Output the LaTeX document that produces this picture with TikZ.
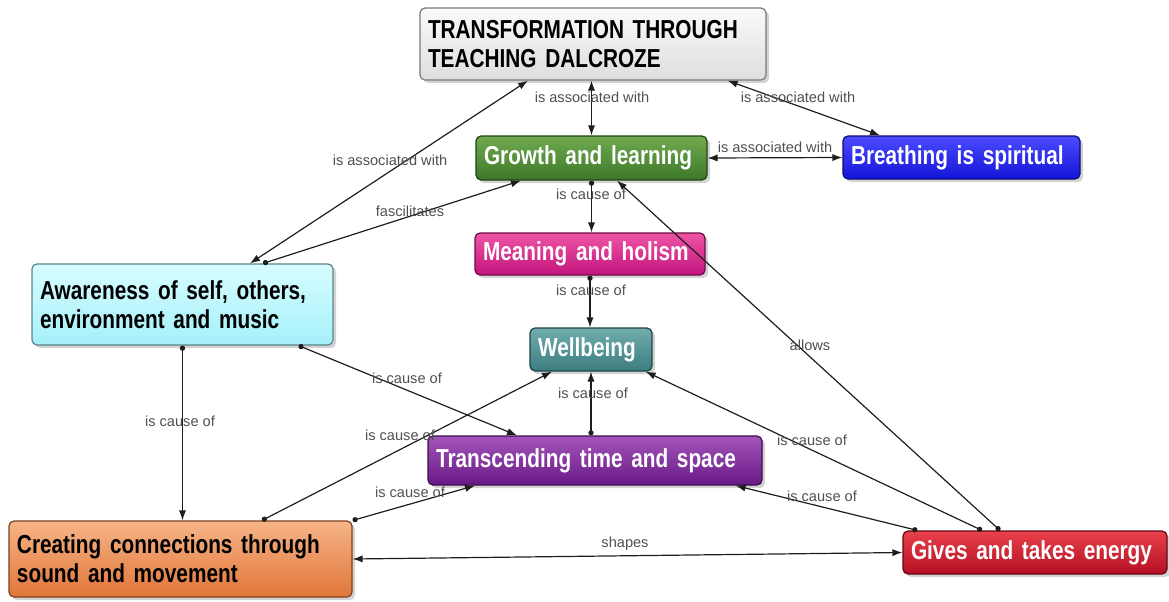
\documentclass[tikz,border=0pt]{standalone}
\usepackage{fontspec}
\setmainfont{Liberation Sans}
\newfontfamily\conceptfont{Liberation Sans}[FakeStretch=0.8]
\newcommand{\tightwords}{\spaceskip=0.22em plus 0.1em\relax}
\usepackage{tikz}
\usetikzlibrary{
  positioning,
  arrows.meta,
  shadows
}
\definecolor{LinkColor}{RGB}{30,30,30}
\definecolor{LabelGray}{RGB}{80,80,80}
\definecolor{GrayTop}{RGB}{250,250,250}
\definecolor{GrayBot}{RGB}{222,222,222}
\definecolor{GreenTop}{RGB}{112,170,80}
\definecolor{GreenBot}{RGB}{60,120,40}
\definecolor{BlueTop}{RGB}{75,75,255}
\definecolor{BlueBot}{RGB}{20,20,215}
\definecolor{PinkTop}{RGB}{238,85,165}
\definecolor{PinkBot}{RGB}{195,20,125}
\definecolor{CyanTop}{RGB}{215,253,255}
\definecolor{CyanBot}{RGB}{165,240,250}
\definecolor{TealTop}{RGB}{112,172,172}
\definecolor{TealBot}{RGB}{60,125,128}
\definecolor{PurpleTop}{RGB}{162,85,185}
\definecolor{PurpleBot}{RGB}{105,25,135}
\definecolor{OrangeTop}{RGB}{246,180,135}
\definecolor{OrangeBot}{RGB}{225,118,58}
\definecolor{RedTop}{RGB}{232,65,75}
\definecolor{RedBot}{RGB}{180,15,35}
\tikzset{
  % Concept box, argument is the colour pair
  concept/.style={
    rectangle,
    rounded corners=2.5pt,
    draw=#1Bot!55!black,
    line width=0.6pt,
    top color=#1Top,
    bottom color=#1Bot,
    drop shadow={opacity=0.35, shadow xshift=1.5pt, shadow yshift=-1.5pt},
    inner xsep=4pt,
    inner ysep=0pt,
    align=left,
    text=white,
    font=\conceptfont\bfseries\fontsize{13}{14.5}\selectfont\tightwords
  },
  % Cause edge (dot at the start)
  cedge/.style={
    draw=LinkColor,
    line width=0.6pt,
    {Circle[length=2.6pt]}-{Latex[length=5pt,width=3.6pt]}
  },
  % Two-way edge
  bedge/.style={
    draw=LinkColor,
    line width=0.6pt,
    {Latex[length=5pt,width=3.6pt]}-{Latex[length=5pt,width=3.6pt]}
  },
  % Link label
  lbl/.style={
    font=\fontsize{7.3}{8}\selectfont,
    text=LabelGray,
    inner sep=1pt
  }
}
\begin{document}
\begin{tikzpicture}[x=0.5pt, y=-0.5pt]
  \useasboundingbox (0,0) rectangle (1169,601);

  \node[concept=Gray, text=black, text width=165pt, minimum height=36pt] (trans) at (593,44) {TRANSFORMATION THROUGH\\TEACHING DALCROZE};
  \node[concept=Green, text width=107.5pt, minimum height=22pt] (grow) at (591.5,158) {Growth and learning};
  \node[concept=Blue, text width=110.5pt, minimum height=21.5pt] (breath) at (961.5,157.5) {Breathing is spiritual};
  \node[concept=Pink, text width=107pt, minimum height=21pt] (mean) at (590,254) {Meaning and holism};
  \node[concept=Cyan, text=black, text width=142.5pt, minimum height=40.5pt] (aware) at (182.5,304.5) {Awareness of self, others,\\environment and music};
  \node[concept=Teal, text width=53pt, minimum height=21.5pt] (well) at (591,349.5) {Wellbeing};
  \node[concept=Purple, text width=159pt, minimum height=24.5pt] (transc) at (595,460.5) {Transcending time and space};
  \node[concept=Orange, text=black, text width=163.5pt, minimum height=38pt] (create) at (180.5,559) {Creating connections through\\sound and movement};
  \node[concept=Red, text width=124pt, minimum height=21.5pt] (gives) at (1035,552.5) {Gives and takes energy};

  \draw[bedge] (grow.north |- trans.south) -- (grow.north) node[lbl] at (592,97) {is associated with};
  \draw[bedge] ([xshift=-19.5pt]trans.south east) -- ([xshift=-40.75pt]breath.north) node[lbl] at (798,97) {is associated with};
  \draw[bedge] (grow.east) -- (breath.west) node[lbl] at (775,147) {is associated with};
  \draw[bedge] ([xshift=-32.5pt]trans.south) -- ([xshift=33.75pt]aware.north) node[lbl] at (390,160) {is associated with};
  \draw[cedge] ([xshift=40.25pt]aware.north) -- ([xshift=-35.25pt]grow.south) node[lbl] at (410,211) {fascilitates};
  \draw[cedge] (grow.south) -- (grow.south |- mean.north) node[lbl] at (591,194) {is cause of};
  \draw[cedge] (mean.south) -- (mean.south |- well.north) node[lbl] at (591,290) {is cause of};
  \draw[cedge] ([xshift=-17.5pt]gives.north) -- ([xshift=12.75pt]grow.south) node[lbl] at (810,345) {allows};
  \draw[cedge] (aware.south) -- (aware.south |- create.north) node[lbl] at (180,421) {is cause of};
  \draw[cedge] ([xshift=-17.5pt]aware.south east) -- ([xshift=-39pt]transc.north) node[lbl] at (407,378) {is cause of};
  \draw[cedge] ([xshift=40.75pt]create.north) -- ([xshift=-19.5pt]well.south) node[lbl] at (400,435) {is cause of};
  \draw[cedge] (create.north east) -- ([xshift=-60pt]transc.south) node[lbl] at (410,492) {is cause of};
  \draw[cedge] (well.south |- transc.north) -- (well.south) node[lbl] at (593,393) {is cause of};
  \draw[cedge] ([xshift=-26.5pt]gives.north) -- ([xshift=-3.5pt]well.south east) node[lbl] at (812,440) {is cause of};
  \draw[cedge] ([xshift=7.5pt]gives.north west) -- ([xshift=-13.5pt]transc.south east) node[lbl] at (822,496) {is cause of};
  \draw[bedge] (create.east) -- (gives.west) node[lbl] at (625,544) {shapes};
\end{tikzpicture}
\end{document}
